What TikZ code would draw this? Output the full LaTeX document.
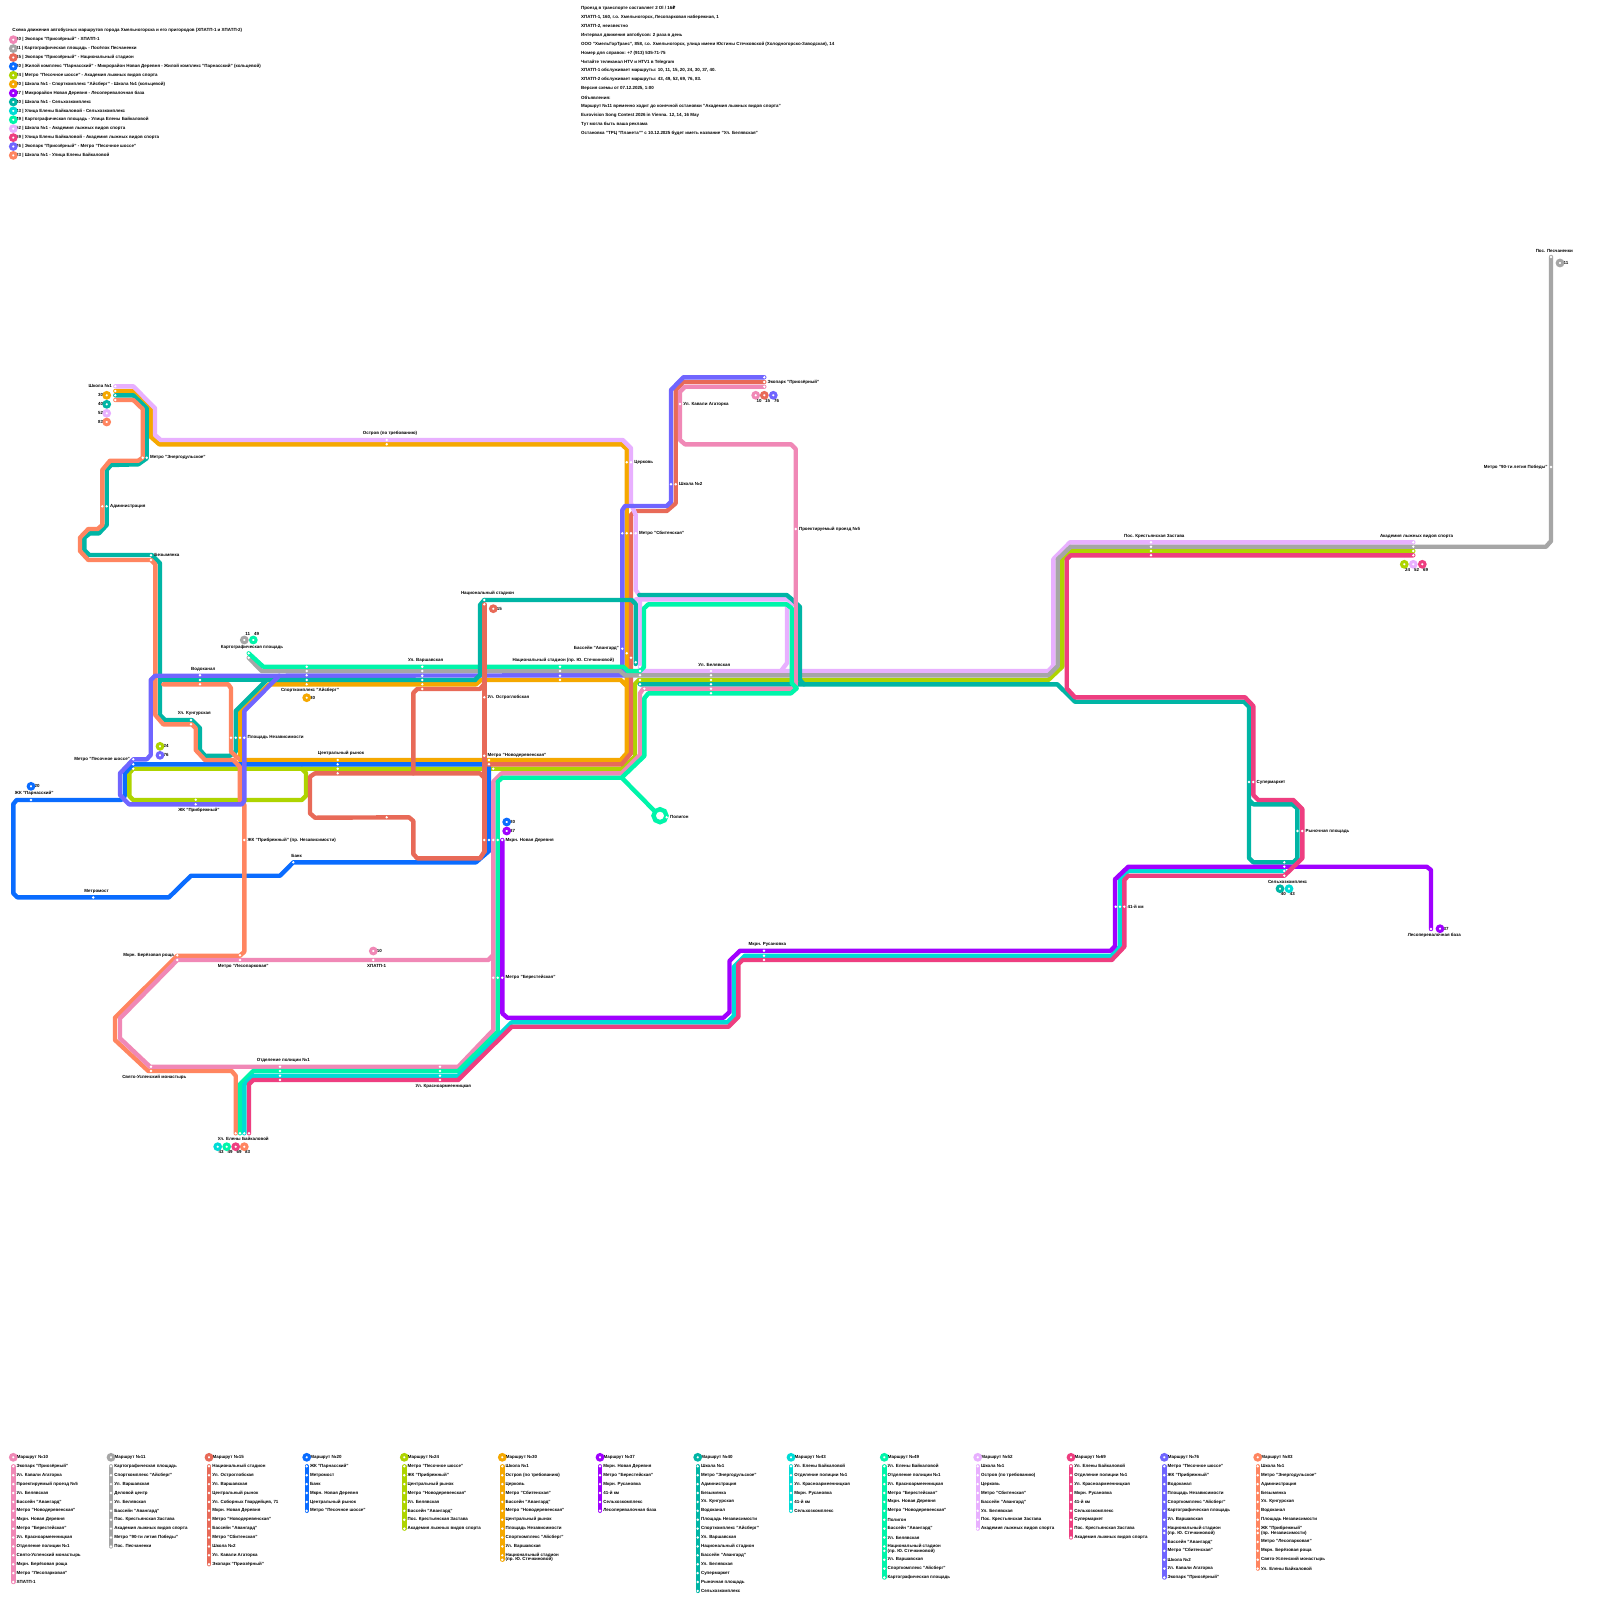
\documentclass[tikz,border=0pt]{standalone}
\usepackage{fontspec}
\setmainfont{Liberation Sans}
\newfontfamily\rubfont{DejaVu Sans}
\usepackage{xcolor}
\usetikzlibrary{positioning, shapes.geometric, backgrounds}
\definecolor{r10}{HTML}{F088B6}
\definecolor{r11}{HTML}{A6A6A6}
\definecolor{r15}{HTML}{E86A58}
\definecolor{r20}{HTML}{0A6CFF}
\definecolor{r24}{HTML}{AED400}
\definecolor{r30}{HTML}{F5A800}
\definecolor{r37}{HTML}{A000FF}
\definecolor{r40}{HTML}{00B5A5}
\definecolor{r43}{HTML}{00DCD6}
\definecolor{r49}{HTML}{00F5AA}
\definecolor{r52}{HTML}{E8B0FF}
\definecolor{r69}{HTML}{EE3E80}
\definecolor{r76}{HTML}{7065FF}
\definecolor{r83}{HTML}{FF8560}
\tikzset{
  route/.style={draw=#1, line width=4.4pt, line cap=round, line join=round},
  stopdot/.style={circle, fill=white, minimum size=2.7pt, inner sep=0pt},
  badge/.style={circle, draw=#1, fill=white, line width=3pt, minimum size=5.6pt, inner sep=0pt},
  lbl/.style={font=\fontsize{4.45}{5.5}\selectfont\bfseries, inner sep=0pt, text=black},
  capt/.style={lbl, xshift=3.3pt},
}
% several stops with one name and a running number
\newcommand{\stopset}[2]{\foreach \sx/\sy [count=\si] in {#2} \node[stopdot] (#1\si) at (\sx,\sy) {};}
% one column of the route lists at the bottom
\newcommand{\routelist}[5]{%
  \node[lbl, anchor=west] (head#1) at (#2+3.4,1457.3) {Маршрут №#1};
  \node[badge=r#1] (ring#1) at (#2,1457.3) {};
  \foreach \stopname [count=\i] in {#5} {
    \ifnum\i>#3 \pgfmathsetmacro\stopy{1466.3+8.9*(\i-1)+4.4}\else\pgfmathsetmacro\stopy{1466.3+8.9*(\i-1)}\fi
    \node[stopdot] (list#1x\i) at (#2,\stopy) {};
    \node[lbl, right=1.6pt of list#1x\i] (name#1x\i) {\stopname};
    \global\let\lasty\stopy
    \ifnum\i=#3
      \pgfmathsetmacro\stopz{\stopy+4.4}
      \global\let\lasty\stopz
      \node[stopdot] (wrap#1) at (#2,\stopz) {};
      \node[lbl, right=1.6pt of wrap#1] (wrapname#1) {#4};
    \fi
  }
  \begin{pgfonlayer}{background}
    \draw[route=r#1] (list#1x1.center) -- (#2,\lasty);
  \end{pgfonlayer}
}
\begin{document}
\begin{tikzpicture}[x=1pt, y=-1pt]
  \useasboundingbox (0,0) rectangle (1600,1600);
  \begin{pgfonlayer}{background}
    \fill[white] (0,0) rectangle (1600,1600);
  \end{pgfonlayer}

  % Legend, top left
  \node[lbl, anchor=west] (schemetitle) at (12.3,30.7)
    {Схема движения автобусных маршрутов города Хмельногорска и его пригородов (ХПАТП-1 и ХПАТП-2)};
  \foreach \rnum/\rtext [count=\i] in {
    10/{Экопарк "Приозёрный" - ХПАТП-1},
    11/{Картографическая площадь - Посёлок Песчаненки},
    15/{Экопарк "Приозёрный" - Национальный стадион},
    20/{Жилой комплекс "Парнасский" - Микрорайон Новая Деревня - Жилой комплекс "Парнасский" (кольцевой)},
    24/{Метро "Песочное шоссе" - Академия лыжных видов спорта},
    30/{Школа №1 - Спорткомплекс "Айсберг" - Школа №1 (кольцевой)},
    37/{Микрорайон Новая Деревня - Лесоперевалочная база},
    40/{Школа №1 - Сельхозкомплекс},
    43/{Улица Елены Байкаловой - Сельхозкомплекс},
    49/{Картографическая площадь - Улица Елены Байкаловой},
    52/{Школа №1 - Академия лыжных видов спорта},
    69/{Улица Елены Байкаловой - Академия лыжных видов спорта},
    76/{Экопарк "Приозёрный" - Метро "Песочное шоссе"},
    83/{Школа №1 - Улица Елены Байкаловой}} {
    \node[lbl, anchor=west] (legtext\rnum) at (16,39.7+8.9*\i-8.9) {\rnum\ | \rtext};
    \node[badge=r\rnum] (legring\rnum) at (13.3,39.7+8.9*\i-8.9) {};
  }

  % Notes, top middle
  \foreach \note [count=\i] in {
    {Проезд в транспорте составляет 2 Ol / 16{\rubfont ₽}},
    {ХПАТП-1, 160, г.о. Хмельногорск, Лесопарковая набережная, 1},
    {ХПАТП-2, неизвестно},
    {Интервал движения автобусов: 2 раза в день},
    {ООО "ХмельГорТранс", 858, г.о. Хмельногорск, улица имени Юстины Стечковской (Холодногорско-Заводская), 14},
    {Номер для справок: +7 (913) 535-71-75},
    {Читайте телеканал HTV и HTV1 в Telegram},
    {ХПАТП-1 обслуживает маршруты: 10, 11, 15, 20, 24, 30, 37, 40.},
    {ХПАТП-2 обслуживает маршруты: 43, 49, 52, 69, 76, 83.},
    {Версия схемы от 07.12.2025, 1:00},
    {Объявления:},
    {Маршрут №11 временно ходит до конечной остановки "Академия лыжных видов спорта"},
    {Eurovision Song Contest 2026 in Vienna. 12, 14, 16 May},
    {Тут могла быть ваша реклама},
    {Остановка "ТРЦ "Планета"" с 10.12.2025 будет иметь название "Ул. Белявская"}} {
    \node[lbl, anchor=west] (note\i) at (581,8.6+8.89*\i-8.89) {\note};
  }

  % Stops of the map
  \stopset{school}{115.3/386.3,115.3/391,115.3/395.3,115.3/400}
  \stopset{energo}{142.7/457.7,146.7/457.7}
  \stopset{admin}{102.3/506.3,106.7/506.3}
  \stopset{bezym}{151/555.3,151/560}
  \stopset{vodok}{200/675.3,200/680,200/684.3}
  \stopset{carto}{248.7/653.3,248.7/657.7}
  \stopset{sport}{306.7/666.7,306.7/671,306.7/675.3,306.7/680,306.7/684.3}
  \stopset{kungur}{191/720,191/724.3}
  \stopset{nezav}{231/737.7,235.7/737.7,240/737.7,244.3/737.7}
  \stopset{pesoch}{133.3/759.3,133.3/764.3,133.3/768.7}
  \stopset{parnas}{31/800}
  \stopset{pribr}{195.7/799.7,195.7/804.3}
  \stopset{centr}{337.7/760,337.7/764.3,337.7/768.7,337.7/773.3}
  \stopset{pribnez}{244.3/840}
  \stopset{bank}{293.3/862.3}
  \stopset{mmost}{93.3/897.5}
  \stopset{varsh}{422.3/666.7,422.3/671,422.3/675.7,422.3/680,422.3/684.3,422.3/689}
  \stopset{natst}{484.3/600,484.3/604.3}
  \stopset{natsq}{560/666.7,560/671,560/675.7,560/680}
  \stopset{ostr}{484.3/697.3}
  \stopset{novod}{484.3/755.7,489/760,489/764.3,493.3/768.7}
  \stopset{sobor}{386.7/817.3}
  \stopset{newvil}{484.3/840,489/840,493.3/840,497.7/840,502.3/840}
  \stopset{polig}{666.7/817.3}
  \stopset{pool}{622.3/648.7,626.7/653.3,631/657.7,635.7/662.3,640/666.7,640/671,640/675.3,640/680,640/684.3,644.3/688.7}
  \stopset{belya}{711/671,711/675.3,711/680,711/684.3,711/688.7,711/693.3}
  \stopset{church}{626.7/462.3,631/462.3}
  \stopset{sbit}{622.3/533.3,626.7/533.3,631/533.3,635.7/533.3}
  \stopset{schtwo}{671/484.3,675.7/484.3}
  \stopset{agat}{680/404}
  \stopset{eco}{764.3/377.3,764.3/382,764.3/386.7}
  \stopset{proezd}{795.7/529}
  \stopset{ostrov}{386.7/440,386.7/444.3}
  \stopset{bereza}{177.3/955.3,177.3/960}
  \stopset{lesop}{240/955.3,240/960}
  \stopset{hpatp}{373.3/960}
  \stopset{berest}{493.3/977.7,497.7/977.7,502.3/977.7}
  \stopset{uspen}{151/1066.7,151/1071}
  \stopset{police}{280/1066.7,280/1071,280/1075.7,280/1080}
  \stopset{krasno}{440/1066.7,440/1071,440/1075.7,440/1080}
  \stopset{baik}{235.7/1133.3,240/1133.3,244.3/1133.3,249/1133.3}
  \stopset{rusan}{764/950.7,764/955.7,764/960}
  \stopset{krest}{1151/542.3,1151/546.7,1151/551,1151/555.3}
  \stopset{akad}{1413.3/542.3,1413.3/546.7,1413.3/551,1413.3/555.3}
  \stopset{mninety}{1551/467}
  \stopset{pesch}{1551/257}
  \stopset{superm}{1249/782,1253.3/782}
  \stopset{rynok}{1297.5/831,1302.3/831}
  \stopset{selkh}{1284.3/862.3,1284.3/866.7,1284.3/871,1284.3/875.7}
  \stopset{kmfour}{1115.7/906.7,1120/906.7,1124.3/906.7}
  \stopset{lesbase}{1431/929}

  % Stop names
  \node[lbl, left=1.6pt of school1] (schooltxt) {Школа №1};
  \node[lbl, right=1.6pt of energo2] (energotxt) {Метро "Энергодульское"};
  \node[lbl, right=1.6pt of admin2] (admintxt) {Администрация};
  \node[lbl, right=1.6pt of bezym1] (bezymtxt) {Безымянка};
  \node[capt, above=2.6pt of vodok1] (vodoktxt) {Водоканал};
  \node[capt, above=2.6pt of carto1] (cartotxt) {Картографическая площадь};
  \node[capt, below=2.6pt of sport5] (sporttxt) {Спорткомплекс "Айсберг"};
  \node[capt, above=2.6pt of kungur1] (kungurtxt) {Ул. Кунгурская};
  \node[lbl, right=1.6pt of nezav4] (nezavtxt) {Площадь Независимости};
  \node[lbl, left=1.6pt of pesoch1] (pesochtxt) {Метро "Песочное шоссе"};
  \node[capt, above=2.6pt of parnas1] (parnastxt) {ЖК "Парнасский"};
  \node[capt, below=2.6pt of pribr2] (pribrtxt) {ЖК "Прибрежный"};
  \node[capt, above=2.6pt of centr1] (centrtxt) {Центральный рынок};
  \node[lbl, right=1.6pt of pribnez1] (pribneztxt) {ЖК "Прибрежный" (пр. Независимости)};
  \node[capt, above=2.6pt of bank1] (banktxt) {Банк};
  \node[capt, above=2.6pt of mmost1] (mmosttxt) {Метромост};
  \node[capt, above=2.6pt of varsh1] (varshtxt) {Ул. Варшавская};
  \node[capt, above=2.6pt of natst1] (natsttxt) {Национальный стадион};
  \node[capt, above=2.6pt of natsq1] (natsqtxt) {Национальный стадион (пр. Ю. Стечкиновой)};
  \node[lbl, right=1.6pt of ostr1] (ostrtxt) {Ул. Остроглобская};
  \node[lbl, right=1.6pt of novod1] (novodtxt) {Метро "Новодеревенская"};
  \node[lbl, right=1.6pt of newvil5] (newviltxt) {Мкрн. Новая Деревня};
  \node[lbl, right=1.6pt of polig1] (poligtxt) {Полигон};
  \node[lbl, left=1.6pt of pool1] (pooltxt) {Бассейн "Авангард"};
  \node[capt, above=2.6pt of belya1] (belyatxt) {Ул. Белявская};
  \node[lbl, right=1.6pt of church2] (churchtxt) {Церковь};
  \node[lbl, right=1.6pt of sbit4] (sbittxt) {Метро "Сбитенская"};
  \node[lbl, right=1.6pt of schtwo2] (schtwotxt) {Школа №2};
  \node[lbl, right=1.6pt of agat1] (agattxt) {Ул. Кавали Агаторка};
  \node[lbl, right=1.6pt of eco2] (ecotxt) {Экопарк "Приозёрный"};
  \node[lbl, right=1.6pt of proezd1] (proezdtxt) {Проектируемый проезд №5};
  \node[capt, above=2.6pt of ostrov1] (ostrovtxt) {Остров (по требованию)};
  \node[lbl, left=1.6pt of bereza1] (berezatxt) {Мкрн. Берёзовая роща};
  \node[capt, below=2.6pt of lesop2] (lesoptxt) {Метро "Лесопарковая"};
  \node[capt, below=2.6pt of hpatp1] (hpatptxt) {ХПАТП-1};
  \node[lbl, right=1.6pt of berest3] (beresttxt) {Метро "Берестейская"};
  \node[capt, below=2.6pt of uspen2] (uspentxt) {Свято-Успенский монастырь};
  \node[capt, above=2.6pt of police1] (policetxt) {Отделение полиции №1};
  \node[capt, below=2.6pt of krasno4] (krasnotxt) {Ул. Красноармеенницкая};
  \node[capt, below=2.6pt of baik2] (baiktxt) {Ул. Елены Байкаловой};
  \node[capt, above=2.6pt of rusan1] (rusantxt) {Мкрн. Русановка};
  \node[capt, above=2.6pt of krest1] (kresttxt) {Пос. Крестьянская Застава};
  \node[capt, above=2.6pt of akad1] (akadtxt) {Академия лыжных видов спорта};
  \node[lbl, left=1.6pt of mninety1] (mninetytxt) {Метро "90-ти летия Победы"};
  \node[capt, above=2.6pt of pesch1] (peschtxt) {Пос. Песчаненки};
  \node[lbl, right=1.6pt of superm2] (supermtxt) {Супермаркет};
  \node[lbl, right=1.6pt of rynok2] (rynoktxt) {Рыночная площадь};
  \node[capt, below=2.6pt of selkh4] (selkhtxt) {Сельхозкомплекс};
  \node[lbl, right=1.6pt of kmfour3] (kmfourtxt) {41-й км};
  \node[capt, below=2.6pt of lesbase1] (lesbasetxt) {Лесоперевалочная база};

  % Route badges at the terminals
  \foreach \rnum/\bx/\by in {30/106.7/395.3, 40/106.7/404.3, 52/106.7/413.3, 83/106.7/422} {
    \node[lbl, anchor=east] (numa\rnum) at (\bx-3.4,\by) {\rnum};
    \node[badge=r\rnum] (ba\rnum) at (\bx,\by) {};
  }
  \foreach \rnum/\bx/\by/\bn in {
    24/160/746.3/b, 76/160/755.3/b, 20/31/786.3/c, 30/306.7/697.7/d, 15/493.3/608.7/e,
    20/506.7/822/f, 37/506.7/831/f, 10/373.3/951/g, 11/1560/263/h, 37/1440/928.7/i} {
    \node[lbl] (num\bn\rnum) at (\bx+6,\by) {\rnum};
    \node[badge=r\rnum] (badge\bn\rnum) at (\bx,\by) {};
  }
  \foreach \rnum/\bx/\by/\bn in {
    10/755.7/395.3/j, 15/764.3/395.3/j, 76/773.3/395.3/j,
    43/217.7/1146.7/k, 49/226.7/1146.7/k, 69/235.7/1146.7/k, 83/244.3/1146.7/k,
    24/1404.3/564.3/m, 52/1413.3/564.3/m, 69/1422.3/564.3/m,
    40/1280/888.7/n, 43/1289/888.7/n} {
    \node[lbl] (num\bn\rnum) at (\bx+3.4,\by+5.2) {\rnum};
    \node[badge=r\rnum] (badge\bn\rnum) at (\bx,\by) {};
  }
  \foreach \rnum/\bx in {11/244.3, 49/253.3} {
    \node[lbl] (numtop\rnum) at (\bx+3.4,634.3) {\rnum};
    \node[badge=r\rnum] (badgetop\rnum) at (\bx,640) {};
  }

  % Route lists at the bottom
  \routelist{10}{13.3}{99}{}{Экопарк "Приозёрный",Ул. Кавали Агаторка,Проектируемый проезд №5,Ул. Белявская,Бассейн "Авангард",Метро "Новодеревенская",Мкрн. Новая Деревня,Метро "Берестейская",Ул. Красноармеенницкая,Отделение полиции №1,Свято-Успенский монастырь,Мкрн. Берёзовая роща,Метро "Лесопарковая",ХПАТП-1}
  \routelist{11}{111}{99}{}{Картографическая площадь,Спорткомплекс "Айсберг",Ул. Варшавская,Деловой центр,Ул. Белявская,Бассейн "Авангард",Пос. Крестьянская Застава,Академия лыжных видов спорта,Метро "90-ти летия Победы",Пос. Песчаненки}
  \routelist{15}{209}{99}{}{Национальный стадион,Ул. Остроглобская,Ул. Варшавская,Центральный рынок,{Ул. Соборных Гвардейцев, 71},Мкрн. Новая Деревня,Метро "Новодеревенская",Бассейн "Авангард",Метро "Сбитенская",Школа №2,Ул. Кавали Агаторка,Экопарк "Приозёрный"}
  \routelist{20}{306.7}{99}{}{ЖК "Парнасский",Метромост,Банк,Мкрн. Новая Деревня,Центральный рынок,Метро "Песочное шоссе"}
  \routelist{24}{404.3}{99}{}{Метро "Песочное шоссе",ЖК "Прибрежный",Центральный рынок,Метро "Новодеревенская",Ул. Белявская,Бассейн "Авангард",Пос. Крестьянская Застава,Академия лыжных видов спорта}
  \routelist{30}{502.3}{11}{(пр. Ю. Стечкиновой)}{Школа №1,Остров (по требованию),Церковь,Метро "Сбитенская",Бассейн "Авангард",Метро "Новодеревенская",Центральный рынок,Площадь Независимости,Спорткомплекс "Айсберг",Ул. Варшавская,Национальный стадион}
  \routelist{37}{600}{99}{}{Мкрн. Новая Деревня,Метро "Берестейская",Мкрн. Русановка,41-й км,Сельхозкомплекс,Лесоперевалочная база}
  \routelist{40}{697.7}{99}{}{Школа №1,Метро "Энергодульское",Администрация,Безымянка,Ул. Кунгурская,Водоканал,Площадь Независимости,Спорткомплекс "Айсберг",Ул. Варшавская,Национальный стадион,Бассейн "Авангард",Ул. Белявская,Супермаркет,Рыночная площадь,Сельхозкомплекс}
  \routelist{43}{791}{99}{}{Ул. Елены Байкаловой,Отделение полиции №1,Ул. Красноармеенницкая,Мкрн. Русановка,41-й км,Сельхозкомплекс}
  \routelist{49}{884.3}{10}{(пр. Ю. Стечкиновой)}{Ул. Елены Байкаловой,Отделение полиции №1,Ул. Красноармеенницкая,Метро "Берестейская",Мкрн. Новая Деревня,Метро "Новодеревенская",Полигон,Бассейн "Авангард",Ул. Белявская,Национальный стадион,Ул. Варшавская,Спорткомплекс "Айсберг",Картографическая площадь}
  \routelist{52}{977.7}{99}{}{Школа №1,Остров (по требованию),Церковь,Метро "Сбитенская",Бассейн "Авангард",Ул. Белявская,Пос. Крестьянская Застава,Академия лыжных видов спорта}
  \routelist{69}{1071}{99}{}{Ул. Елены Байкаловой,Отделение полиции №1,Ул. Красноармеенницкая,Мкрн. Русановка,41-й км,Сельхозкомплекс,Супермаркет,Пос. Крестьянская Застава,Академия лыжных видов спорта}
  \routelist{76}{1164.3}{8}{(пр. Ю. Стечкиновой)}{Метро "Песочное шоссе",ЖК "Прибрежный",Водоканал,Площадь Независимости,Спорткомплекс "Айсберг",Картографическая площадь,Ул. Варшавская,Национальный стадион,Бассейн "Авангард",Метро "Сбитенская",Школа №2,Ул. Кавали Агаторка,Экопарк "Приозёрный"}
  \routelist{83}{1257.7}{8}{(пр. Независимости)}{Школа №1,Метро "Энергодульское",Администрация,Безымянка,Ул. Кунгурская,Водоканал,Площадь Независимости,ЖК "Прибрежный",Метро "Лесопарковая",Мкрн. Берёзовая роща,Свято-Успенский монастырь,Ул. Елены Байкаловой}

  % Routes, from the lowest to the topmost
  \begin{pgfonlayer}{background}
    % 24
    \draw[route=r24] (pesoch3.center) -- (301.7,768.7) -- (306,773) -- (306,795.7) -- (301.7,800) -- (133.3,800)
      -- (129.3,796) -- (129.3,773) -- cycle;
    \draw[route=r24] (301.7,768.7) -- (621.7,768.7) -- (635,756.7) -- (635,684) -- (639,680) -- (1048.3,680)
      -- (1062.3,666.7) -- (1062.3,559.3) -- (1071.7,551) -- (akad3.center);
    % 30
    \draw[route=r30] (school2.center) -- (133.3,391) -- (150.7,408.3) -- (150.7,436.7) -- (159.3,444.3)
      -- (621.7,444.3) -- (626.7,449) -- (626.7,753.3) -- (620.7,760) -- (240,760) -- (240,711)
      -- (269.3,684.3) -- (476,684.3) -- (481,680) -- (620.7,680) -- (626.7,686);
    % 20
    \draw[route=r20] (parnas1.center) -- (16.7,800) -- (13.3,804) -- (13.3,893.3) -- (17.3,897.3) -- (169,897.3)
      -- (191,875.7) -- (280,875.7) -- (bank1.center) -- (476,862.3) -- (489,851) -- (489,764.3)
      -- (pesoch2.center) -- (124.7,773.3) -- (124.7,796) -- (121,800) -- (parnas1.center);
    % 15
    \draw[route=r15] (eco2.center) -- (683.3,382) -- (675.7,390) -- (675.7,503.3) -- (666.7,511) -- (635,511)
      -- (631,515) -- (631,753.3) -- (621.7,764.3) -- (484.3,764.3);
    \draw[route=r15] (484.3,851.7) -- (480,858.3) -- (417.3,858.3) -- (413.3,854) -- (413.3,821) -- (409,817.3)
      -- (315,817.7) -- (310,813.3) -- (310,776.7) -- (315,773.3) -- (480,773.3) -- (484.3,778);
    \draw[route=r15] (484.3,684) -- (480,689) -- (417.3,689) -- (413.3,693) -- (413.3,773.3);
    % 52
    \draw[route=r52] (school1.center) -- (133.3,386.3) -- (155,408.3) -- (155,435) -- (160.7,440) -- (622.7,440)
      -- (631,448.3) -- (631,503.3) -- (635.7,515) -- (635.7,590) -- (640,596) -- (640,666) -- (640,671)
      -- (1048.3,671) -- (1053.3,665.7) -- (1053.3,559.3) -- (1070,542.3) -- (akad1.center);
    \draw[route=r52] (636,599.3) -- (788,599.3) -- (792.7,604);
    \draw[route=r52] (787,607) -- (787,663) -- (781,671);
    % 76, east part
    \draw[route=r76] (eco1.center) -- (683.3,377.3) -- (671,390) -- (671,501.7) -- (666.7,506) -- (625,506)
      -- (622.3,510) -- (622.3,670) -- (625,675.3) -- (279.3,675.7);
    % 11
    \draw[route=r11] (carto2.center) -- (261.7,671) -- (620,671) -- (625,675.3) -- (1048.3,675.3) -- (1057.7,666)
      -- (1057.7,559.3) -- (1070.7,546.7) -- (1546,546.7) -- (1551,541) -- (pesch1.center);
    % 40
    \draw[route=r40] (school3.center) -- (133.3,395.3) -- (146.7,408.3) -- (146.7,458.3) -- (138.3,464.3)
      -- (111,465) -- (106.7,470) -- (106.7,525) -- (99,533.3) -- (90,533.3) -- (84.3,537.7) -- (84.3,550)
      -- (89.3,555) -- (151.7,555) -- (160,563.3) -- (160,715) -- (165,720) -- (191.7,720) -- (200,728.3)
      -- (200,750) -- (205,755.7) -- (230,755.7) -- (235.7,751.7) -- (235.7,711) -- (266.7,680) -- (475,680);
    \draw[route=r40] (160,680) -- (266.7,680);
    \draw[route=r40] (484.3,600) -- (631.7,600) -- (635.7,604) -- (635.7,664);
    \draw[route=r40] (pool9.center) -- (1057.3,684.3) -- (1075,701.7) -- (1244,701.7) -- (1249,706.7)
      -- (1249,858) -- (1253.3,862.3) -- (1293.3,862.3) -- (1297.3,858.3) -- (1297.3,808.3) -- (1292.3,804.3)
      -- (1253.3,804.3) -- (1249,800);
    \draw[route=r40] (639.3,595) -- (786.7,595) -- (792.7,600) -- (800,607) -- (800,680) -- (804,684.3);
    % 83
    \draw[route=r83] (school4.center) -- (133.3,400) -- (142.7,409) -- (142.7,457.7) -- (138.3,460.7) -- (110,460.7)
      -- (102.3,470) -- (102.3,525) -- (97.7,529) -- (88.3,529) -- (80,537.7) -- (80,551) -- (88.3,560)
      -- (151,560) -- (155.3,564.3) -- (155.3,715) -- (163.3,724.3) -- (191.7,724.3) -- (195.7,728.3)
      -- (195.7,750) -- (205,760) -- (233.3,760) -- (239.7,766.7) -- (239.7,800) -- (244.3,804.5)
      -- (244.3,951.7) -- (240,955.7) -- (177.3,955.7) -- (115,1017.7) -- (115,1040) -- (148.3,1071)
      -- (231.7,1071) -- (235.7,1075.7) -- (baik1.center);
    \draw[route=r83] (163.3,684.3) -- (228.3,684.3) -- (231,688.3) -- (231,751.7) -- (238,758.3);
    % 76, west part
    \draw[route=r76] (279.3,675.7) -- (155,675.7) -- (150.7,680) -- (150.7,755) -- (146.7,759.3) -- (pesoch1.center)
      -- (120,773.3) -- (120,795) -- (129,804.3) -- (241.7,804.3) -- (244.3,801) -- (244.3,711) -- (279.3,675.7);
    % 10
    \draw[route=r10] (eco3.center) -- (685,386.7) -- (680,391.7) -- (680,440) -- (685,444.3) -- (791,444.3)
      -- (795.7,449) -- (795.7,686.7) -- (791.7,688.7) -- (643.3,688.7) -- (640,693.3) -- (640,755)
      -- (621.7,773.3) -- (501.7,773.3) -- (493.3,781.7) -- (493.3,1030) -- (458.3,1066.7) -- (150,1066.7)
      -- (120,1038.3) -- (120,1018.3) -- (177.3,960) -- (488.3,960) -- (493.3,955);
    % 49
    \draw[route=r49] (carto1.center) -- (263.3,666.7) -- (623.3,666.7) -- (627.7,671) -- (640,671) -- (644,667)
      -- (644,608.3) -- (648.3,604.3) -- (786.7,604.3) -- (791.7,608.3) -- (791.7,683) -- (796.7,688.3)
      -- (791,693.3) -- (648.3,693.3) -- (644.3,698.3) -- (644.3,756) -- (621.7,777.7) -- (502.3,777.7)
      -- (497.7,781.7) -- (497.7,1031.7) -- (458.3,1071) -- (253.3,1071) -- (240,1084.3) -- (baik2.center);
    \draw[route=r49] (621.7,777.7) -- (655,811.5);
    \node[regular polygon, regular polygon sides=8, regular polygon rotate=22.5, draw=r49, line width=4.4pt,
          minimum size=13pt, inner sep=0pt] (poligring) at (660,815.7) {};
    % 43
    \draw[route=r43] (baik3.center) -- (244.3,1084.3) -- (253.3,1075.7) -- (458.3,1075.7) -- (511.7,1022.3)
      -- (727.3,1022.3) -- (733.9,1015.7) -- (733.9,966.8) -- (745,955.7) -- (1111.7,955.7) -- (1119.7,946.7)
      -- (1119.7,879.3) -- (1128,871) -- (selkh3.center);
    % 37
    \draw[route=r37] (newvil5.center) -- (502.3,1013.3) -- (507.3,1017.7) -- (723.5,1017.7) -- (729.5,1012)
      -- (729.5,961) -- (740,950.7) -- (1110.7,950.7) -- (1115,946) -- (1115,879.3) -- (1128.3,866.7)
      -- (1426.7,866.7) -- (1431,870) -- (lesbase1.center);
    % 69
    \draw[route=r69] (baik4.center) -- (249,1084.3) -- (253.3,1080) -- (458.3,1080) -- (511.7,1026.7)
      -- (728.6,1026.7) -- (738.3,1017) -- (738.3,964.3) -- (742.6,960) -- (1111.7,960) -- (1124.3,946.7)
      -- (1124.3,880) -- (1128.3,875.7) -- (1284.3,875.7) -- (1302.3,858.3) -- (1302.3,809) -- (1293.3,800)
      -- (1258.3,800) -- (1253.3,795) -- (1253.3,706) -- (1245,697.3) -- (1075,697.3) -- (1066.7,688.3)
      -- (1066.7,559.3) -- (1070.7,555.3) -- (akad4.center);
    % the two verticals at the stadium lie over the rest
    \draw[route=r40] (475,680) -- (480,675) -- (480,605) -- (natst1.center);
    \draw[route=r15] (natst2.center) -- (484.3,851.7);
  \end{pgfonlayer}
\end{tikzpicture}
\end{document}
